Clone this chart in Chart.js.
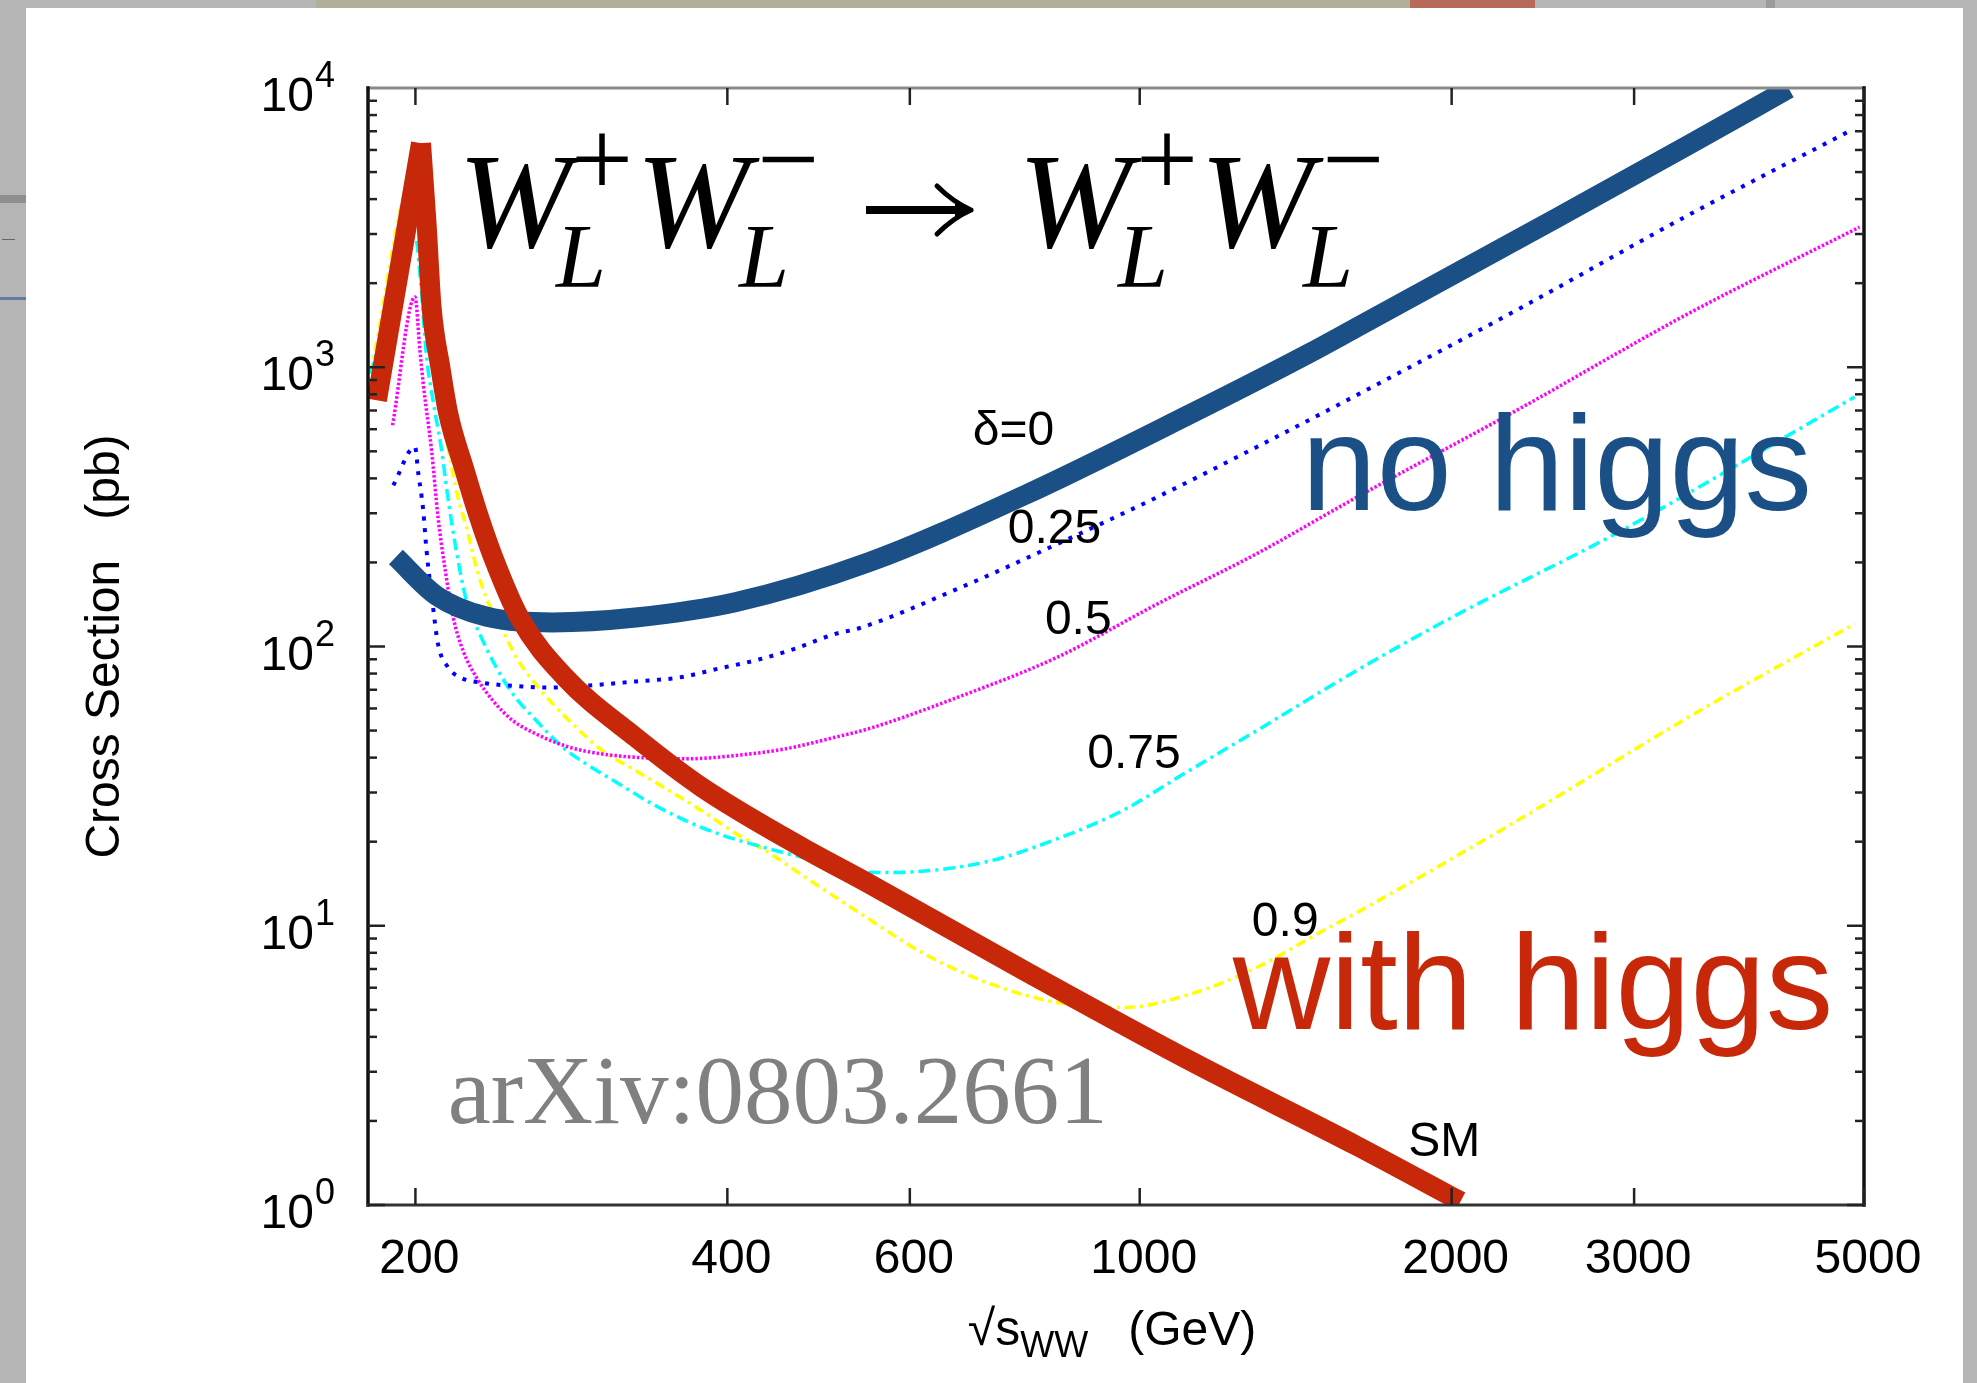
<!DOCTYPE html>
<html>
<head>
<meta charset="utf-8">
<title>WW scattering cross section</title>
<script src="https://cdn.jsdelivr.net/npm/chart.js@4.4.1/dist/chart.umd.min.js"></script>
<style>
  html, body { margin: 0; padding: 0; }
  body { width: 1977px; height: 1383px; background: #b4b5b4; position: relative; overflow: hidden; }
  .bit { position: absolute; }
  #card { position: absolute; left: 26px; top: 8px; width: 1937px; height: 1375px; background: #fff; }
  #wrap { position: absolute; left: 0; top: 0; width: 1977px; height: 1383px; }
</style>
</head>
<body>
<div class="bit" style="left:316px;top:0;width:1094px;height:8px;background:#b2b09b"></div>
<div class="bit" style="left:1410px;top:0;width:125px;height:8px;background:#b86a5a"></div>
<div class="bit" style="left:1766px;top:0;width:9px;height:8px;background:#9a9b9b"></div>
<div class="bit" style="left:0;top:195px;width:26px;height:8px;background:#8c8e90"></div>
<div class="bit" style="left:2px;top:239px;width:13px;height:1px;background:#666"></div>
<div class="bit" style="left:0;top:297px;width:26px;height:3px;background:#5f7d9b"></div>
<div id="card"></div>
<div id="wrap"><canvas id="xsec" width="1977" height="1383"></canvas></div>
<script>
// sqrt(s_WW) in GeV, cross section in pb

// thick hand-drawn overlays
const noHiggsX = [191.5, 209.6, 234, 271.4, 326.4, 407, 547, 774, 1119, 1449, 1619, 2521, 3385, 4230];
const noHiggsY = [209, 152, 128, 122, 127, 144, 200, 348, 680, 1110, 1388, 3412, 6250, 9950];

// "with higgs" is one stroke: a straight rise to the W pair peak, then the fall-off
const withHiggsRiseX = [183.6, 202.5];
const withHiggsRiseY = [762, 6350];
const withHiggsFallX = [202.5, 205, 207.3, 211.4, 215, 223, 230, 237.6, 252, 278.5, 326.4, 378, 472, 547, 774, 1119, 1619, 2040];
const withHiggsFallY = [6350, 3280, 1644, 1000, 690, 430, 296, 210, 127, 78, 47.2, 31.3, 19.1, 14.2, 6.9, 3.28, 1.63, 1.03];

// delta = 0.25
const d25X = [190.4, 199.8, 201.3, 202.8, 203.5, 205, 208, 210.3, 215, 220.7, 232.4, 253.7, 269.3, 294.3, 326.6, 359, 392.6, 428.8, 465.4, 508.5, 535, 667.5, 833, 1040, 1297, 1619, 2341, 3385, 4862];
const d25Y = [378, 518, 416, 343, 307, 221, 138, 102, 84.3, 77.6, 74.1, 71.9, 71.3, 72.5, 75, 77.4, 83.4, 89.8, 98.4, 111, 116, 161, 233, 343, 518, 794, 1644, 3507, 7067];

// delta = 0.5
const d50X = [190.1, 199.8, 202, 203.5, 207.3, 210.3, 213.5, 217.5, 222.3, 229, 237.6, 248.3, 261.6, 281.5, 303, 326.4, 364.6, 407.2, 455, 508, 547, 667.5, 833, 1040, 1297, 1619, 2341, 3385, 4950];
const d50Y = [620, 1786, 1151, 874, 504, 291, 192, 127.4, 96.8, 77.6, 64.0, 54.3, 48.6, 43.6, 41.2, 40.1, 39.6, 40.7, 43.0, 47.3, 50.7, 65.8, 91.6, 142, 215, 342, 720, 1557, 3175];

// delta = 0.75
const d75X = [181, 200, 202, 205, 208, 212, 215, 219, 224, 230.7, 239.3, 248.3, 261.6, 277.4, 292.2, 314.5, 338.6, 364.6, 392.6, 422.5, 472, 547, 620, 719, 833, 965.6, 1103, 1297, 1619, 1976, 2922, 4897];
const d75Y = [950, 2930, 2170, 1090, 760, 504, 340, 221, 146, 111, 84.3, 67.7, 54.3, 43.6, 38.0, 32.2, 27.3, 23.8, 21.3, 19.6, 17.6, 15.5, 15.7, 17.1, 20.5, 26, 35, 50, 82, 124, 261, 783];

// delta = 0.9
const d90X = [181, 200, 205, 210, 215, 219.8, 224, 229, 234, 242.9, 250.2, 259.6, 271.4, 285.8, 303, 326.4, 351.4, 378, 407, 438.5, 472, 535, 620, 719, 833, 965.6, 1119, 1297, 1503, 1631, 2341, 3385, 4897];
const d90Y = [950, 5000, 2000, 900, 520, 343, 268, 192, 150, 114, 91.5, 75.5, 62.3, 51.4, 42.4, 35.9, 30.5, 25.8, 21.5, 18.3, 15.2, 11.2, 7.92, 6.18, 5.31, 5.10, 5.69, 7.09, 9.6, 11.3, 24.4, 55.8, 120.6];

const xTicks = [200, 400, 600, 1000, 2000, 3000, 5000];
const yDecades = [0, 1, 2, 3, 4];

// curve labels, anchored at (GeV, pb) at the left end of their baseline
const curveLabels = [
  { text: 'δ=0', at: [690, 525] },
  { text: '0.25', at: [746, 234] },
  { text: '0.5', at: [810, 111] },
  { text: '0.75', at: [890, 36.8] },
  { text: '0.9', at: [1283, 9.2] },
  { text: 'SM', at: [1816, 1.5] }
];

const BLUE = '#1b5086';
const RED = '#c7280a';
const SANS = '"Liberation Sans", Arial, Helvetica, sans-serif';
const SERIF = '"Liberation Serif", "Times New Roman", serif';

function pts(xs, ys) {
  return xs.map((v, i) => ({ x: v, y: ys[i] }));
}

function line(ctx, x1, y1, x2, y2) {
  ctx.beginPath();
  ctx.moveTo(x1, y1);
  ctx.lineTo(x2, y2);
  ctx.stroke();
}

// W_L^+ W_L^-  ->  W_L^+ W_L^-
function drawProcess(ctx, left, base) {
  const pieces = [
    ['W', 0, 0, 'italic 136px ' + SERIF],
    ['+', 113, -51, '110px ' + SERIF],
    ['L', 98, 40, 'italic 90px ' + SERIF],
    ['W', 178, 0, 'italic 136px ' + SERIF],
    ['\u2212', 299, -51, '110px ' + SERIF],
    ['L', 281, 40, 'italic 90px ' + SERIF],
    ['W', 560, 0, 'italic 136px ' + SERIF],
    ['+', 678, -51, '110px ' + SERIF],
    ['L', 660, 40, 'italic 90px ' + SERIF],
    ['W', 742, 0, 'italic 136px ' + SERIF],
    ['\u2212', 864, -51, '110px ' + SERIF],
    ['L', 845, 40, 'italic 90px ' + SERIF]
  ];
  ctx.fillStyle = '#000';
  ctx.textAlign = 'left';
  ctx.textBaseline = 'alphabetic';
  pieces.forEach(([t, dx, dy, f]) => {
    ctx.font = f;
    ctx.fillText(t, left + dx, base + dy);
  });

  // the arrow, drawn as a path so its head has the curved barbs
  const ay = base - 37;
  const x0 = left + 408, tip = left + 513;
  ctx.strokeStyle = '#000';
  ctx.lineCap = 'butt';
  ctx.lineWidth = 8;
  line(ctx, x0, ay, tip - 10, ay);
  ctx.lineWidth = 5;
  ctx.lineCap = 'round';
  ctx.beginPath();
  ctx.moveTo(tip, ay);
  ctx.quadraticCurveTo(tip - 18, ay - 8, tip - 34, ay - 24);
  ctx.moveTo(tip, ay);
  ctx.quadraticCurveTo(tip - 18, ay + 8, tip - 34, ay + 24);
  ctx.stroke();
  ctx.beginPath();
  ctx.moveTo(tip + 1, ay);
  ctx.lineTo(tip - 16, ay - 9);
  ctx.lineTo(tip - 16, ay + 9);
  ctx.closePath();
  ctx.fillStyle = '#000';
  ctx.fill();
}

const frameAndText = {
  id: 'frameAndText',
  afterDatasetsDraw(chart) {
    const { ctx, chartArea: a, scales: { x, y } } = chart;
    ctx.save();

    // plot frame
    ctx.lineCap = 'square';
    ctx.strokeStyle = '#8a8a8a';
    ctx.lineWidth = 3;
    line(ctx, a.left, a.top, a.right, a.top);
    ctx.strokeStyle = '#111';
    ctx.lineWidth = 3.5;
    line(ctx, a.left, a.top, a.left, a.bottom);
    line(ctx, a.right, a.top, a.right, a.bottom);
    ctx.strokeStyle = '#333';
    ctx.lineWidth = 3;
    line(ctx, a.left, a.bottom, a.right, a.bottom);

    // inward ticks on all four sides
    ctx.lineCap = 'butt';
    ctx.strokeStyle = '#222';
    ctx.lineWidth = 2.5;
    xTicks.forEach(v => {
      const px = x.getPixelForValue(v);
      line(ctx, px, a.bottom, px, a.bottom - 17);
      line(ctx, px, a.top, px, a.top + 17);
    });
    for (let d = 0; d < 4; d++) {
      for (let m = 1; m <= 9; m++) {
        const py = y.getPixelForValue(m * Math.pow(10, d));
        const len = m === 1 ? 17 : 9;
        line(ctx, a.left, py, a.left + len, py);
        line(ctx, a.right, py, a.right - len, py);
      }
    }

    // tick labels
    ctx.fillStyle = '#000';
    ctx.textBaseline = 'alphabetic';
    ctx.font = '48px ' + SANS;
    ctx.textAlign = 'center';
    xTicks.forEach(v => {
      ctx.fillText(String(v), x.getPixelForValue(v) + 4, a.bottom + 68);
    });
    yDecades.forEach(k => {
      const py = y.getPixelForValue(Math.pow(10, k));
      ctx.font = '48px ' + SANS;
      ctx.textAlign = 'right';
      ctx.fillText('10', a.left - 54, py + 23);
      ctx.font = '36px ' + SANS;
      ctx.textAlign = 'left';
      ctx.fillText(String(k), a.left - 53, py - 1);
    });

    // axis titles
    ctx.save();
    ctx.translate(119, (a.top + a.bottom) / 2);
    ctx.rotate(-Math.PI / 2);
    ctx.font = '48px ' + SANS;
    ctx.textAlign = 'center';
    ctx.fillText('Cross Section\u00a0\u00a0\u00a0(pb)', 0, 0);
    ctx.restore();

    const xb = a.bottom + 140;
    ctx.textAlign = 'left';
    ctx.font = '50px ' + SANS;
    const wRoot = ctx.measureText('\u221As').width;
    ctx.font = '48px ' + SANS;
    const wGeV = ctx.measureText('(GeV)').width;
    ctx.font = '36px ' + SANS;
    const wSub = ctx.measureText('WW').width;
    const gap = 40;
    let cx = (a.left + a.right) / 2 - (wRoot + wSub + gap + wGeV) / 2 - 4;
    ctx.font = '50px ' + SANS;
    ctx.fillText('\u221As', cx, xb);
    ctx.font = '36px ' + SANS;
    ctx.fillText('WW', cx + wRoot, xb + 12);
    ctx.font = '48px ' + SANS;
    ctx.fillText('(GeV)', cx + wRoot + wSub + gap, xb);

    // curve labels
    ctx.font = '48px ' + SANS;
    ctx.textAlign = 'left';
    curveLabels.forEach(l => {
      ctx.fillText(l.text, x.getPixelForValue(l.at[0]), y.getPixelForValue(l.at[1]));
    });

    // reference tag
    ctx.fillStyle = '#808080';
    ctx.font = '97px ' + SERIF;
    ctx.fillText('arXiv:0803.2661', x.getPixelForValue(214.9), y.getPixelForValue(1.967));

    drawProcess(ctx, a.left + 90, a.top + 159);

    ctx.font = '135px ' + SANS;
    ctx.fillStyle = BLUE;
    ctx.fillText('no higgs', x.getPixelForValue(1433), y.getPixelForValue(307));
    ctx.fillStyle = RED;
    ctx.fillText('with higgs', x.getPixelForValue(1230), y.getPixelForValue(4.27));

    ctx.restore();
  }
};

const thick = { pointRadius: 0, fill: false, borderWidth: 20, borderCapStyle: 'butt', cubicInterpolationMode: 'monotone' };
const thin = { pointRadius: 0, fill: false, borderWidth: 3.5, borderCapStyle: 'butt', cubicInterpolationMode: 'monotone' };

// the first dataset is painted last, so the overlays come first
new Chart(document.getElementById('xsec'), {
  type: 'line',
  data: {
    datasets: [
      Object.assign({ label: 'with higgs', data: pts(withHiggsRiseX, withHiggsRiseY), borderColor: RED }, thick),
      Object.assign({ label: 'with higgs', data: pts(withHiggsFallX, withHiggsFallY), borderColor: RED }, thick),
      Object.assign({ label: 'no higgs', data: pts(noHiggsX, noHiggsY), borderColor: BLUE }, thick),
      Object.assign({}, thin, { label: 'δ=0.25', data: pts(d25X, d25Y), borderColor: '#0000ff', borderWidth: 4, borderDash: [4, 7.5] }),
      Object.assign({}, thin, { label: 'δ=0.5', data: pts(d50X, d50Y), borderColor: '#ff00ff', borderWidth: 3.5, borderDash: [2.5, 2] }),
      Object.assign({}, thin, { label: 'δ=0.75', data: pts(d75X, d75Y), borderColor: '#00ffff', borderDash: [12, 5, 3, 5] }),
      Object.assign({}, thin, { label: 'δ=0.9', data: pts(d90X, d90Y), borderColor: '#ffff00', borderDash: [10, 5, 3, 5] })
    ]
  },
  options: {
    responsive: false,
    animation: false,
    devicePixelRatio: 1,
    events: [],
    layout: { padding: { left: 368, top: 88, right: 113, bottom: 178 } },
    scales: {
      x: { type: 'logarithmic', min: 180, max: 5000, display: false },
      y: { type: 'logarithmic', min: 1, max: 10000, display: false }
    },
    plugins: {
      legend: { display: false },
      tooltip: { enabled: false }
    }
  },
  plugins: [frameAndText]
});
</script>
</body>
</html>
